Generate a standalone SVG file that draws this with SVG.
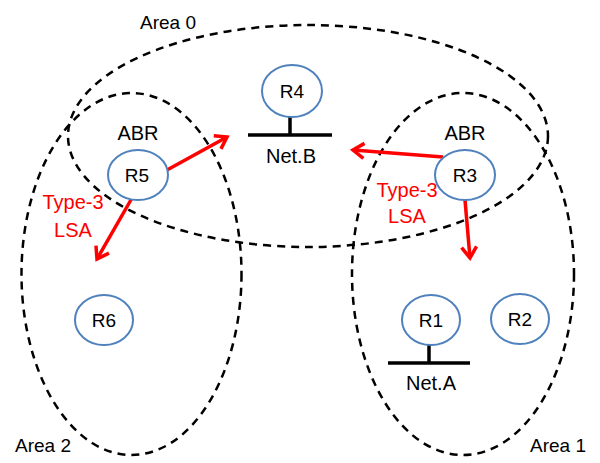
<svg xmlns="http://www.w3.org/2000/svg" width="600" height="463" viewBox="0 0 600 463">
  <style>
    .area{fill:none;stroke:#000;stroke-width:2.5;stroke-dasharray:8 6}
    .rt{fill:#fff;stroke:#4f81bd;stroke-width:2}
    .t{font-family:"Liberation Sans",Arial,sans-serif;font-size:20px;fill:#000;text-anchor:middle}
    .rn{font-family:"Liberation Sans",Arial,sans-serif;font-size:19px;fill:#000;text-anchor:middle}
    .at{font-family:"Liberation Sans",Arial,sans-serif;font-size:19px;fill:#000}
    .red{font-family:"Liberation Sans",Arial,sans-serif;font-size:20px;fill:#ff0000;text-anchor:middle}
    .net{stroke:#000;stroke-width:3.5;fill:none}
    .arr{stroke:#ff0000;stroke-width:3.5;fill:none;marker-end:url(#ah)}
  </style>
  <defs>
    <marker id="ah" markerUnits="userSpaceOnUse" markerWidth="20" markerHeight="20" refX="13" refY="8" orient="auto" viewBox="0 0 20 16">
      <path d="M2,0.5 L13,8 L2,15.5" fill="none" stroke="#ff0000" stroke-width="3.5"/>
    </marker>
  </defs>
  <g id="areas">
    <g id="area0">
      <ellipse class="area" cx="308" cy="136" rx="240" ry="111"/>
      <text class="at" x="140" y="29">Area 0</text>
    </g>
    <g id="area2">
      <ellipse class="area" cx="131.5" cy="274" rx="110" ry="181"/>
      <text class="at" x="15" y="452">Area 2</text>
    </g>
    <g id="area1">
      <ellipse class="area" cx="463" cy="274" rx="111" ry="181"/>
      <text class="at" x="530" y="452">Area 1</text>
    </g>
  </g>
  <g id="connectors">
    <line class="arr" x1="167" y1="170" x2="227" y2="137"/>
    <line class="arr" x1="132" y1="198" x2="97" y2="259"/>
    <line class="arr" x1="443" y1="157" x2="353" y2="150"/>
    <line class="arr" x1="465" y1="200" x2="470" y2="258"/>
  </g>
  <g id="labels">
    <text class="red" x="73" y="209">Type-3</text>
    <text class="red" x="73" y="237">LSA</text>
    <text class="red" x="407" y="197">Type-3</text>
    <text class="red" x="407" y="223">LSA</text>
  </g>
  <g id="netB">
    <line class="net" x1="290" y1="117" x2="290" y2="135"/>
    <line class="net" x1="248" y1="135" x2="332" y2="135"/>
    <text class="t" x="291" y="163">Net.B</text>
  </g>
  <g id="netA">
    <line class="net" x1="429" y1="345" x2="429" y2="363"/>
    <line class="net" x1="388" y1="363" x2="470" y2="363"/>
    <text class="t" x="431" y="390">Net.A</text>
  </g>
  <g id="R4">
    <ellipse class="rt" cx="292" cy="91" rx="30" ry="26"/>
    <text class="rn" x="292" y="98">R4</text>
  </g>
  <g id="R5">
    <text class="t" x="138" y="140">ABR</text>
    <ellipse class="rt" cx="138" cy="175" rx="30" ry="25"/>
    <text class="rn" x="137" y="182">R5</text>
  </g>
  <g id="R3">
    <text class="t" x="465" y="140">ABR</text>
    <ellipse class="rt" cx="465" cy="175" rx="30" ry="25"/>
    <text class="rn" x="465" y="182">R3</text>
  </g>
  <g id="R6">
    <ellipse class="rt" cx="104" cy="320" rx="29" ry="25"/>
    <text class="rn" x="104" y="327">R6</text>
  </g>
  <g id="R1">
    <ellipse class="rt" cx="431" cy="320" rx="29" ry="25"/>
    <text class="rn" x="431" y="327">R1</text>
  </g>
  <g id="R2">
    <ellipse class="rt" cx="520" cy="319" rx="29" ry="25"/>
    <text class="rn" x="520" y="326">R2</text>
  </g>
</svg>
